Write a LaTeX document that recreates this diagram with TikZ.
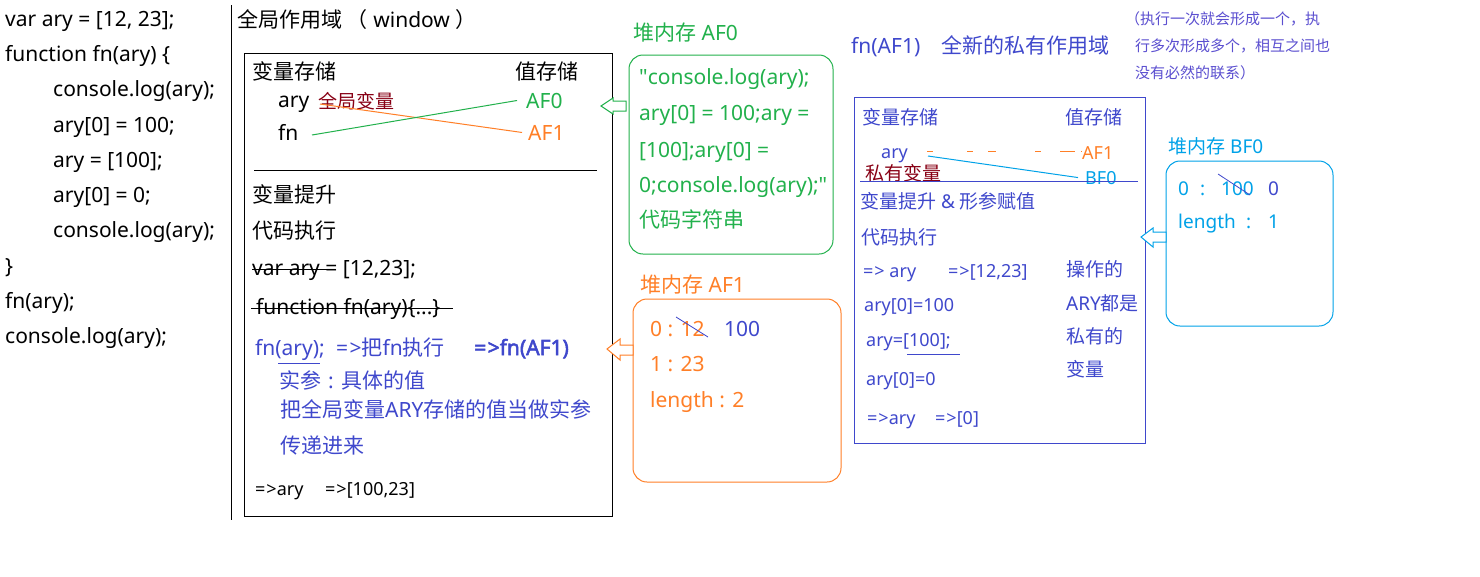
\documentclass[tikz,border=0pt]{standalone}
\usepackage{fontspec}
\setmainfont{Noto Sans}
\newfontfamily\cjk{Noto Sans CJK SC}
\newfontfamily\fb{Noto Sans}[FakeBold=2.5]
\newfontfamily\nolig{Noto Sans}
\newcommand\zh[1]{{\cjk #1}}
\newcommand\dq{{\nolig"}}
\definecolor{cgreen}{HTML}{22B14C}
\definecolor{corange}{HTML}{FF7F27}
\definecolor{cblue}{HTML}{3F48CC}
\definecolor{ccyan}{HTML}{00A2E8}
\definecolor{cred}{HTML}{880015}
\definecolor{cnote}{HTML}{5B4FD0}
\tikzset{
  every node/.style={inner sep=0pt, anchor=base west},
  big/.style={font=\fontsize{21}{25}\selectfont},
  mid/.style={font=\fontsize{19}{23}\selectfont},
  sml/.style={font=\fontsize{18}{22}\selectfont},
  tiny/.style={font=\fontsize{15}{18}\selectfont},
  box/.style={line width=1pt},
  heap/.style={line width=1pt, rounded corners=14pt},
  barrow/.style={line width=1pt, draw=#1, fill=white},
}
\begin{document}
\begin{tikzpicture}[x=1pt,y=-1pt]
\useasboundingbox (0,0) rectangle (1480,576);
\fill[white] (0,0) rectangle (1480,576);

% left code
\node[big] (c1) at (5,26) {var ary = [12, 23];};
\node[big] (c2) at (5,61) {function fn(ary) \{};
\node[big] (c3) at (53,96) {console.log(ary);};
\node[big] (c4) at (53,132) {ary[0] = 100;};
\node[big] (c5) at (53,167) {ary = [100];};
\node[big] (c6) at (53,202) {ary[0] = 0;};
\node[big] (c7) at (53,237) {console.log(ary);};
\node[big] (c8) at (5,273) {\}};
\node[big] (c9) at (5,308) {fn(ary);};
\node[big] (c10) at (5,343) {console.log(ary);};
\draw[line width=1pt] (231,5) -- (231,520);

% global scope
\node[big] (title) at (237,27) {\zh{全局作用域 （} window \zh{）}};
\draw[box] (244,53) rectangle (612,516);
\node[big] (gvs) at (252,79) {\zh{变量存储}};
\node[big] (gzs) at (515,79) {\zh{值存储}};
\node[big] (gary) at (278,107) {ary};
\node[mid, text=cred] (gqj) at (318,108) {\zh{全局变量}};
\node[big] (gfn) at (278,140) {fn};
\node[big, text=cgreen] (gaf0) at (526,108) {AF0};
\node[big, text=corange] (gaf1) at (528,140) {AF1};
\coordinate (go) at (320,104);
\coordinate (gg) at (312,135);
\draw[corange, line width=1pt] (go) -- ([xshift=-6pt]gaf1.west);
\draw[cgreen, line width=1pt] (gg) -- ([xshift=-9pt]gaf0.west);
\draw[line width=1pt] (254,170) -- (597,170);
\node[big] (gts) at (252,202) {\zh{变量提升}};
\node[big] (gdm) at (252,238) {\zh{代码执行}};
\node[big] (gvar) at (252,275) {var ary = [12,23];};
\draw[line width=1pt] (252,269) -- (327,269);
\node[big] (gfun) at (256,314) {function fn(ary)\{...\}};
\draw[line width=1pt] (251,308) -- (453,308);
\node[big, text=cblue] (gcall) at (255,355) {fn(ary);};
\draw[cblue, line width=1pt] (278,363) -- (320,363);
\node[big, text=cblue] (gexe) at (336,355) {=\hspace{1.5pt}>\zh{把}fn\zh{执行}};
\node[text=cblue, font=\fontsize{21}{25}\fb] (gaf1c) at (474,355) {=\hspace{1.5pt}>fn(AF1)};
\node[big, text=cblue] (gsc1) at (279,388) {\zh{实参}\hspace{7pt}:\hspace{8pt}\zh{具体的值}};
\node[big, text=cblue] (gsc2) at (280,417) {\zh{把全局变量}ARY\zh{存储的值当做实参}};
\node[big, text=cblue] (gsc3) at (280,453) {\zh{传递进来}};
\node[sml] (gres1) at (255,495) {=\hspace{1pt}>ary};
\node[sml] (gres2) at (325,495) {=\hspace{1pt}>[100,23]};

% AF0 heap
\node[big, text=cgreen] (haf0) at (633,40) {\zh{堆内存} AF0};
\draw[heap, cgreen] (629,55) rectangle (833,254);
\node[big, text=cgreen] (a1) at (639,84) {\dq console.log(ary);};
\node[big, text=cgreen] (a2) at (639,120) {ary[0] = 100;ary =};
\node[big, text=cgreen] (a3) at (639,157) {[100];ary[0] =};
\node[big, text=cgreen] (a4) at (639,192) {0;console.log(ary);\dq};
\node[big, text=cgreen] (a5) at (639,227) {\zh{代码字符串}};
\draw[barrow=cgreen] (601,106) -- (613,98) -- (613,101) -- (626,101) -- (626,111) -- (613,111) -- (613,114) -- cycle;

% AF1 heap
\node[big, text=corange] (haf1) at (640,292) {\zh{堆内存} AF1};
\draw[heap, corange] (633,299) rectangle (841,482);
\node[big, text=corange] (b1) at (650,336) {0 : 12};
\draw[cblue, line width=0.8pt] (676,317) -- (708,337);
\node[big, text=cblue] (b1n) at (724,336) {100};
\node[big, text=corange] (b2) at (650,371) {1 : 23};
\node[big, text=corange] (b3) at (650,407) {length : 2};
\draw[barrow=corange] (607,349) -- (620,339) -- (620,345) -- (633,345) -- (633,355) -- (620,355) -- (620,360) -- cycle;

% private scope
\node[big, text=cblue] (pfn) at (851,53) {fn(AF1)};
\node[big, text=cblue] (pnew) at (941,53) {\zh{全新的私有作用域}};
\node[tiny, text=cnote] (n1) at (1125,24) {\zh{（执行一次就会形成一个，执}};
\node[tiny, text=cnote] (n2) at (1135,51) {\zh{行多次形成多个，相互之间也}};
\node[tiny, text=cnote] (n3) at (1135,78) {\zh{没有必然的联系）}};
\draw[box, cblue] (854,97) rectangle (1145,443);
\node[mid, text=cblue] (pvs) at (862,124) {\zh{变量存储}};
\node[mid, text=cblue] (pzs) at (1065,124) {\zh{值存储}};
\node[sml, text=cblue] (pary) at (881,158) {ary};
\node[mid, text=cred] (psy) at (865,180) {\zh{私有变量}};
\node[sml, text=corange] (paf1) at (1082,159) {AF1};
\node[sml, text=ccyan] (pbf0) at (1085,184) {BF0};
\coordinate (po) at (927,151);
\coordinate (pc) at (928,156);
\draw[corange, line width=1pt, dash pattern=on 6pt off 34pt on 6pt off 15pt on 8pt off 39pt on 6pt off 19pt on 15pt] (po) -- (po -| paf1.west);
\draw[ccyan, line width=1pt] (pc) -- ([xshift=-7pt]pbf0.west);
\draw[cblue, line width=1pt] (860,181) -- (1138,181);
\node[mid, text=cblue] (pts) at (860,208) {\zh{变量提升} \& \zh{形参赋值}};
\node[mid, text=cblue] (pdm) at (861,244) {\zh{代码执行}};
\node[sml, text=cblue] (p1) at (863,277) {=\hspace{1pt}> ary};
\node[sml, text=cblue] (p1b) at (948,277) {=\hspace{1pt}>[12,23]};
\node[sml, text=cblue] (p2) at (864,311) {ary[0]=100};
\node[sml, text=cblue] (p3) at (866,346) {ary=[100];};
\draw[cblue, line width=1pt] (907,354) -- (960,354);
\node[sml, text=cblue] (p4) at (866,385) {ary[0]=0};
\node[sml, text=cblue] (p5) at (867,424) {=\hspace{1pt}>ary};
\node[sml, text=cblue] (p5b) at (935,424) {=\hspace{1pt}>[0]};
\node[mid, text=cblue] (q1) at (1066,276) {\zh{操作的}};
\node[mid, text=cblue] (q2) at (1066,310) {ARY\zh{都是}};
\node[mid, text=cblue] (q3) at (1066,343) {\zh{私有的}};
\node[mid, text=cblue] (q4) at (1066,376) {\zh{变量}};

% BF0 heap
\node[mid, text=ccyan] (hbf0) at (1168,153) {\zh{堆内存} BF0};
\draw[heap, ccyan] (1166,161) rectangle (1333,326);
\node[mid, text=ccyan] (d1a) at (1178,195) {0};
\node[mid, text=ccyan] (d1c) at (1200,195) {:};
\node[mid, text=ccyan] (d1b) at (1221,195) {100};
\draw[cblue, line width=0.8pt] (1218,174) -- (1250,195);
\node[mid, text=cblue] (d1n) at (1268,195) {0};
\node[mid, text=ccyan] (d2a) at (1178,228) {length};
\node[mid, text=ccyan] (d2c) at (1246,228) {:};
\node[mid, text=ccyan] (d2b) at (1268,228) {1};
\draw[barrow=ccyan] (1141,237) -- (1153,228) -- (1153,232) -- (1166,232) -- (1166,242) -- (1153,242) -- (1153,247) -- cycle;
\end{tikzpicture}
\end{document}
